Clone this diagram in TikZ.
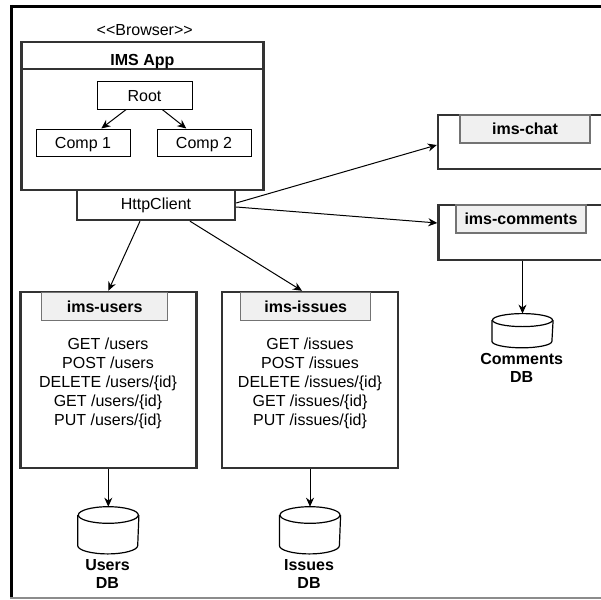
\documentclass[tikz,border=0pt]{standalone}
\usepackage{fontspec}
\setmainfont{Liberation Sans}
\usetikzlibrary{arrows.meta}

\newcommand{\dbcyl}[2]{%
  \draw[line width=1.2pt] ([yshift=-#2]#1.north) ellipse [x radius=30pt,y radius=#2];
  \draw[line width=1.2pt] ([yshift=-#2]#1.north west) -- ([yshift=#2]#1.south west)
    arc[start angle=180,end angle=360,x radius=30pt,y radius=#2] -- ([yshift=-#2]#1.north east);}

\begin{document}
\begin{tikzpicture}[x=1pt,y=-1pt,
                    font=\fontsize{16}{19}\selectfont,
                    thickbox/.style={draw=black!80,line width=2.4pt,inner sep=1pt},
                    comp/.style={draw=black,line width=1pt,minimum width=94,minimum height=27,text height=11.5pt,text depth=0pt},
                    tab/.style={draw=black!55,fill=black!6,line width=1.2pt,minimum height=28,text height=11.5pt,text depth=0pt,font=\fontsize{16}{19}\selectfont\bfseries},
                    db/.style={minimum width=60,inner sep=0pt,outer sep=0.6pt},
                    dblabel/.style={align=center,font=\fontsize{16}{18}\selectfont\bfseries},
                    arr/.style={-{Stealth[length=9pt,width=8pt]},line width=1pt}]
                    \useasboundingbox (0,0) rectangle (601,599);
                    \clip (0,0) rectangle (601,599);

                    \draw[line width=3pt] (10,6.5) -- (601,6.5);
                    \draw[line width=2.5pt] (11.3,5) -- (11.3,599);
                    \draw[black!45,line width=1.5pt] (10,598.2) -- (601,598.2);

                    \node (browser) at (144.7,30.5) {<\kern0pt<Browser>\kern0pt>};
                    \node[thickbox,minimum width=242,minimum height=148] (app) at (142.4,116) {};
                    \node[thickbox,minimum width=242,minimum height=27,text height=20pt,text depth=0pt,font=\fontsize{16}{19}\selectfont\bfseries] (apptitle) at (142.4,55.7) {IMS App};
                    \node[comp,minimum width=95] (root) at (144.5,95.5) {Root};
                    \node[comp] (comp1) at (83,142.5) {Comp 1};
                    \node[comp] (comp2) at (204,142.5) {Comp 2};
                    \node[thickbox,minimum width=158,minimum height=30] (http) at (156,205) {HttpClient};

                    \node[thickbox,minimum width=170,minimum height=54] (chat) at (523,142) {};
                    \node[tab,minimum width=130] (chattab) at (525,129) {ims-chat};
                    \node[thickbox,minimum width=168,minimum height=55] (comments) at (522.5,232.5) {};
                    \node[tab,minimum width=130] (commentstab) at (521,219) {ims-comments};
                    \node[db,minimum height=33] (commentsdb) at (522.5,330.7) {};
                    \dbcyl{commentsdb}{6.5pt}
                    \node[dblabel] (commentslabel) at (521.7,368) {Comments\\DB};

                    \node[thickbox,minimum width=176,minimum height=176] (users) at (108.3,380) {};
                    \node[tab,minimum width=126] (userstab) at (104.7,306.3) {ims-users};
                    \node[align=center] (usersapi) at (108,383) {GET /users\\POST /users\\DELETE /users/\{id\}\\GET /users/\{id\}\\PUT /users/\{id\}};
                    \node[db,minimum height=46] (usersdb) at (108.3,530.3) {};
                    \dbcyl{usersdb}{8.3pt}
                    \node[dblabel] (userslabel) at (107.5,574.2) {Users\\DB};

                    \node[thickbox,minimum width=176,minimum height=176] (issues) at (310,380) {};
                    \node[tab,minimum width=130] (issuestab) at (305.7,306.3) {ims-issues};
                    \node[align=center] (issuesapi) at (310,383) {GET /issues\\POST /issues\\DELETE /issues/\{id\}\\GET /issues/\{id\}\\PUT /issues/\{id\}};
                    \node[db,minimum height=46] (issuesdb) at (310,530.3) {};
                    \dbcyl{issuesdb}{8.3pt}
                    \node[dblabel] (issueslabel) at (309,574.2) {Issues\\DB};

                    \draw[arr] (root) -- (comp1);
                    \draw[arr] (root) -- (comp2);
                    \draw[arr] ([yshift=2pt]http.east) -- ([yshift=-3pt]chat.west);
                    \draw[arr] ([yshift=-2pt]http.east) -- ([yshift=9.5pt]comments.west);
                    \draw[arr] ([xshift=-16pt]http.south) -- (users.north);
                    \draw[arr] ([xshift=34pt]http.south) -- ([xshift=-8pt]issues.north);
                    \draw[arr] (users) -- (usersdb);
                    \draw[arr] (issues) -- (issuesdb);
                    \draw[arr] (comments) -- (commentsdb);
                \end{tikzpicture}
\end{document}
